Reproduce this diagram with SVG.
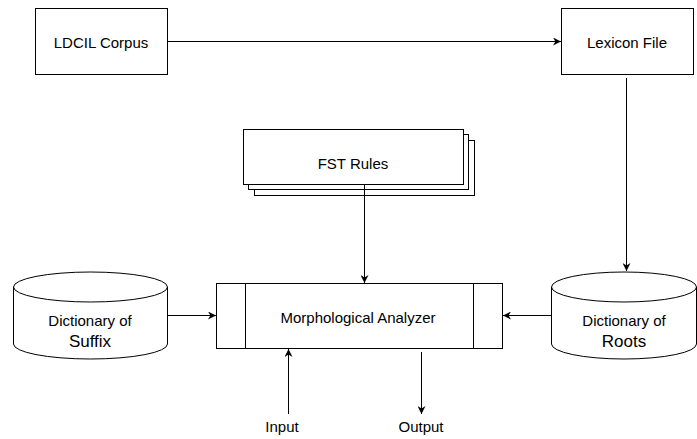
<svg xmlns="http://www.w3.org/2000/svg" width="697" height="439" viewBox="0 0 697 439">
<style>
.s{fill:#fff;stroke:#000;stroke-width:1}
.t{font-family:"Liberation Sans",Arial,sans-serif;font-size:15px;fill:#000;text-anchor:middle}
.b{font-size:17px}
.c{fill:none;stroke:#000;stroke-width:1}
</style>
<defs>
<marker id="a" viewBox="0 0 10 10" refX="10" refY="5" markerWidth="8" markerHeight="8" markerUnits="userSpaceOnUse" orient="auto"><path d="M0,0 L10,5 L0,10 L3,5 Z" fill="#000"/></marker>
</defs>
<rect width="697" height="439" fill="#fff"/>
<g id="ldcil"><rect class="s" x="35.5" y="8.5" width="132" height="66"/><text class="t" x="101" y="48">LDCIL Corpus</text></g>
<g id="lexicon"><rect class="s" x="561.5" y="8.5" width="132" height="66"/><text class="t" x="627" y="48">Lexicon File</text></g>
<g id="fst">
<rect class="s" x="254.5" y="140.5" width="220" height="55"/>
<rect class="s" x="248.5" y="134.5" width="220" height="55"/>
<rect class="s" x="243.5" y="129.5" width="220" height="55"/>
<text class="t" x="353" y="169">FST Rules</text></g>
<g id="morph"><rect class="s" x="216.5" y="283.5" width="286" height="65"/><line class="c" x1="245.5" y1="283.5" x2="245.5" y2="348.5"/><line class="c" x1="473.5" y1="283.5" x2="473.5" y2="348.5"/><text class="t" x="358" y="323">Morphological Analyzer</text></g>
<g id="suffix"><path class="s" d="M13.5,287 A77,15 0 0 1 167.5,287 L167.5,344 A77,15 0 0 1 13.5,344 Z"/><path class="c" d="M13.5,287 A77,15 0 0 0 167.5,287"/><text class="t" x="90" y="326">Dictionary of</text><text class="t b" x="90" y="347">Suffix</text></g>
<g id="roots"><path class="s" d="M551.5,287 A72.5,15 0 0 1 696.5,287 L696.5,344 A72.5,15 0 0 1 551.5,344 Z"/><path class="c" d="M551.5,287 A72.5,15 0 0 0 696.5,287"/><text class="t" x="624" y="326">Dictionary of</text><text class="t b" x="624" y="347">Roots</text></g>
<g id="labels"><text class="t" x="282" y="432">Input</text><text class="t" x="421" y="432">Output</text></g>
<g id="connectors">
<line class="c" x1="167.5" y1="41.5" x2="561" y2="41.5" marker-end="url(#a)"/>
<line class="c" x1="626.5" y1="78" x2="626.5" y2="271" marker-end="url(#a)"/>
<line class="c" x1="364.5" y1="185" x2="364.5" y2="283" marker-end="url(#a)"/>
<line class="c" x1="167.5" y1="315.5" x2="216" y2="315.5" marker-end="url(#a)"/>
<line class="c" x1="551.5" y1="315.5" x2="503" y2="315.5" marker-end="url(#a)"/>
<line class="c" x1="288.5" y1="414" x2="288.5" y2="349" marker-end="url(#a)"/>
<line class="c" x1="421.5" y1="352" x2="421.5" y2="414" marker-end="url(#a)"/>
</g>
</svg>
